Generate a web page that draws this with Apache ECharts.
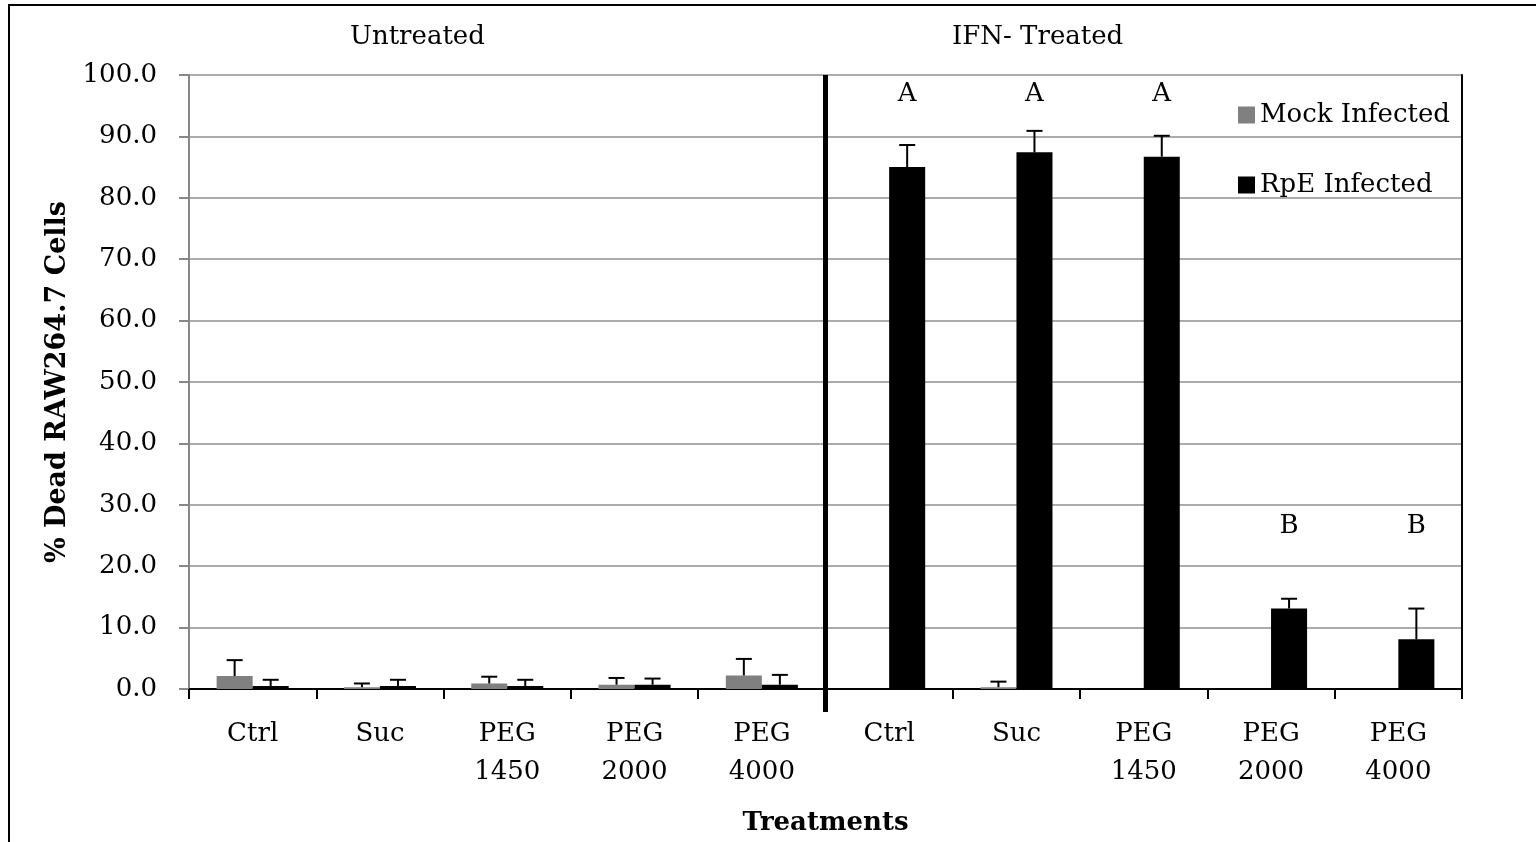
<!DOCTYPE html>
<html>
<head>
<meta charset="utf-8">
<script src="https://cdn.jsdelivr.net/npm/echarts@6/dist/echarts.min.js"></script>
<style>
html,body{margin:0;padding:0;background:#fff;}
#chart{width:1536px;height:842px;}
</style>
</head>
<body>
<div id="chart"></div>
<script>
const categories = ['Ctrl','Suc','PEG\n1450','PEG\n2000','PEG\n4000','Ctrl','Suc','PEG\n1450','PEG\n2000','PEG\n4000'];
const mockValues = [2.1, 0.3, 0.9, 0.7, 2.2, 0, 0.3, 0, 0, 0];
const mockErrors = [2.6, 0.6, 1.1, 1.1, 2.7, 0, 0.9, 0, 0, 0];
const rpeValues = [0.5, 0.5, 0.5, 0.7, 0.7, 85.0, 87.4, 86.7, 13.1, 8.1];
const rpeErrors = [1.0, 1.0, 1.0, 1.0, 1.6, 3.6, 3.5, 3.4, 1.6, 5.0];
const letterLabels = ['', '', '', '', '', 'A', 'A', 'A', 'B', 'B'];
const letterLevels = [null, null, null, null, null, 97, 97, 97, 26.7, 26.7];
const groupLabels = ['Untreated', 'IFN- Treated'];
const seriesNames = ['Mock Infected', 'RpE Infected'];

const FONT = 'DejaVu Serif';
const GAP = 0.434;

function barOffset(api, side) {
  const band = api.size([1, 0])[0];
  const barW = band * (1 - GAP) / 2;
  return side * barW / 2;
}

function errRender(side) {
  return function (params, api) {
    const v = api.value(1), e = api.value(2);
    if (!e) return null;
    const c = api.coord([api.value(0), v]);
    const t = api.coord([api.value(0), v + e]);
    const x = c[0] + barOffset(api, side);
    const cap = 8;
    return {
      type: 'group',
      children: [
        {type: 'line', shape: {x1: x, y1: c[1], x2: x, y2: t[1]}, style: {stroke: '#000', lineWidth: 2}},
        {type: 'line', shape: {x1: x - cap, y1: t[1], x2: x + cap, y2: t[1]}, style: {stroke: '#000', lineWidth: 2}}
      ]
    };
  };
}

function letterRender(params, api) {
  const i = params.dataIndex;
  if (!letterLabels[i]) return null;
  const p = api.coord([api.value(0), api.value(1)]);
  const x = p[0] + barOffset(api, 1);
  return {
    type: 'text',
    style: {x: x, y: p[1] + 1, text: letterLabels[i], fill: '#000', font: '26px "DejaVu Serif"', align: 'center', verticalAlign: 'middle'}
  };
}

const chart = echarts.init(document.getElementById('chart'));
const option = {
  animation: false,
  backgroundColor: '#fff',
  textStyle: {fontFamily: FONT},
  grid: {left: 189, right: 74, top: 75, bottom: 153, containLabel: false},
  legend: {
    data: seriesNames,
    orient: 'vertical',
    left: 1233,
    top: 97,
    itemWidth: 17,
    itemHeight: 17,
    itemGap: 44,
    icon: 'rect',
    textStyle: {fontFamily: FONT, fontSize: 26, color: '#000'}
  },
  xAxis: [{
    type: 'category',
    data: categories,
    name: 'Treatments',
    nameLocation: 'middle',
    nameGap: 121,
    nameTextStyle: {fontFamily: FONT, fontSize: 26, fontWeight: 'bold', color: '#000'},
    axisLine: {lineStyle: {color: '#000', width: 2}},
    axisTick: {show: true, interval: 0, length: 10, lineStyle: {color: '#000', width: 2}},
    axisLabel: {interval: 0, margin: 26, fontFamily: FONT, fontSize: 26, color: '#000', lineHeight: 38}
  }, {
    type: 'category',
    data: categories,
    position: 'top',
    axisLine: {lineStyle: {color: '#000', width: 2}},
    axisTick: {show: false},
    axisLabel: {show: false}
  }],
  yAxis: [{
    type: 'value',
    min: 0, max: 100, interval: 10,
    name: '% Dead RAW264.7 Cells',
    nameLocation: 'middle',
    nameGap: 112,
    nameRotate: 90,
    nameTextStyle: {fontFamily: FONT, fontSize: 27, fontWeight: 'bold', color: '#000'},
    axisLine: {show: true, lineStyle: {color: '#888', width: 2}},
    axisTick: {show: true, length: 10, lineStyle: {color: '#888', width: 2}},
    axisLabel: {margin: 32, fontFamily: FONT, fontSize: 26, color: '#000', formatter: v => v.toFixed(1)},
    splitLine: {lineStyle: {color: '#8f8f8f', width: 1.5}}
  }, {
    type: 'value',
    min: 0, max: 100, interval: 10,
    position: 'right',
    axisLine: {show: true, lineStyle: {color: '#000', width: 2}},
    axisTick: {show: false},
    axisLabel: {show: false},
    splitLine: {show: false}
  }],
  series: [
    {
      name: seriesNames[0], type: 'bar', data: mockValues, barGap: '0%', barCategoryGap: (GAP * 100) + '%',
      itemStyle: {color: '#808080'}, z: 3
    },
    {
      name: seriesNames[1], type: 'bar', data: rpeValues, barGap: '0%', barCategoryGap: (GAP * 100) + '%',
      itemStyle: {color: '#000'}, z: 3
    },
    {
      type: 'custom', renderItem: errRender(-1), z: 5, silent: true,
      data: mockValues.map((v, i) => [i, v, mockErrors[i]])
    },
    {
      type: 'custom', renderItem: errRender(1), z: 5, silent: true,
      data: rpeValues.map((v, i) => [i, v, rpeErrors[i]])
    },
    {
      type: 'custom', renderItem: letterRender, z: 5, silent: true,
      data: letterLevels.map((v, i) => [i, v == null ? 0 : v])
    }
  ],
  graphic: [
    {type: 'rect', shape: {x: 9, y: 5, width: 1600, height: 900}, style: {fill: 'none', stroke: '#000', lineWidth: 2}, z: -1, silent: true},
    {type: 'text', left: 350, top: 24, style: {text: groupLabels[0], font: '26px "DejaVu Serif"', fill: '#000'}},
    {type: 'text', left: 952, top: 24, style: {text: groupLabels[1], font: '26px "DejaVu Serif"', fill: '#000'}}
  ]
};
chart.setOption(option);

// vertical divider between groups, placed from the axis scale
const pLeft = chart.convertToPixel({xAxisIndex: 0}, 4);
const pRight = chart.convertToPixel({xAxisIndex: 0}, 5);
const xDiv = (pLeft + pRight) / 2;
const yTop = chart.convertToPixel({yAxisIndex: 0}, 100);
const yBot = chart.convertToPixel({yAxisIndex: 0}, 0);
chart.setOption({
  graphic: option.graphic.concat([
    {type: 'line', shape: {x1: xDiv, y1: yTop, x2: xDiv, y2: yBot + 23}, style: {stroke: '#000', lineWidth: 5}, z: 10, silent: true}
  ])
});
</script>
</body>
</html>
